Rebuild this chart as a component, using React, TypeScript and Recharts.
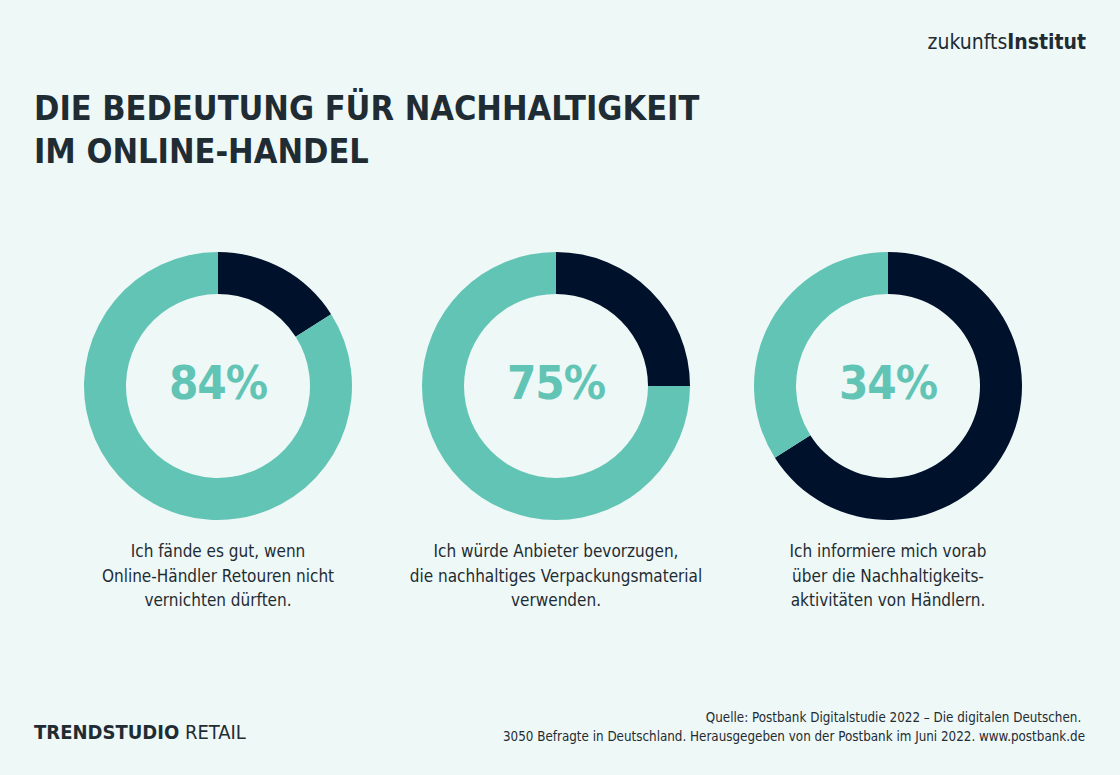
import { PieChart, Pie, Cell } from "recharts"

const statements = [
  ["Ich fände es gut, wenn", "Online-Händler Retouren nicht", "vernichten dürften."],
  ["Ich würde Anbieter bevorzugen,", "die nachhaltiges Verpackungsmaterial", "verwenden."],
  ["Ich informiere mich vorab", "über die Nachhaltigkeits-", "aktivitäten von Händlern."],
]
const agree = [84, 75, 34]
const centersX = [218, 556, 888]
const CY = 386

const TEAL = "#62c4b4"
const NAVY = "#00112b"
const INK = "#1f2c33"
const BG = "#eef8f7"
const FONT = "'Liberation Sans Narrow', 'DejaVu Sans Condensed', 'Open Sans', sans-serif"

export default function App() {
  return (
    <div
      style={{
        position: "absolute",
        left: 0,
        top: 0,
        width: 1120,
        height: 775,
        background: BG,
        fontFamily: FONT,
        color: INK,
        overflow: "hidden",
      }}
    >
      <div style={{ position: "absolute", right: 34, top: 30, fontSize: 21 }}>
        zukunfts<b>Institut</b>
      </div>
      <div
        style={{
          position: "absolute",
          left: 34,
          top: 87,
          fontSize: 34,
          fontWeight: 700,
          lineHeight: "43px",
        }}
      >
        DIE BEDEUTUNG FÜR NACHHALTIGKEIT
        <br />
        IM ONLINE-HANDEL
      </div>

      <div style={{ position: "absolute", left: 0, top: 0 }}>
        <PieChart width={1120} height={775} margin={{ top: 0, right: 0, bottom: 0, left: 0 }}>
          {agree.map((v, i) => (
            <Pie
              key={i}
              data={[
                { name: "nein", value: 100 - v },
                { name: "ja", value: v },
              ]}
              dataKey="value"
              cx={centersX[i]}
              cy={CY}
              innerRadius={92}
              outerRadius={134}
              startAngle={90}
              endAngle={-270}
              stroke="none"
              isAnimationActive={false}
            >
              <Cell fill={NAVY} />
              <Cell fill={TEAL} />
            </Pie>
          ))}
        </PieChart>
      </div>

      {agree.map((v, i) => (
        <div
          key={"p" + i}
          style={{
            position: "absolute",
            left: centersX[i] - 100,
            width: 200,
            top: CY - 33,
            textAlign: "center",
            fontSize: 47,
            fontWeight: 700,
            lineHeight: "60px",
            letterSpacing: -1,
            color: TEAL,
          }}
        >
          {v}%
        </div>
      ))}

      {statements.map((lines, i) => (
        <div
          key={i}
          style={{
            position: "absolute",
            left: centersX[i] - 170,
            width: 340,
            top: 539,
            textAlign: "center",
            fontSize: 17,
            lineHeight: "24.5px",
          }}
        >
          {lines.map((l, j) => (
            <div key={j}>{l}</div>
          ))}
        </div>
      ))}

      <div style={{ position: "absolute", left: 34, top: 720, fontSize: 20 }}>
        <b>TRENDSTUDIO</b> RETAIL
      </div>
      <div
        style={{
          position: "absolute",
          right: 35,
          top: 708,
          fontSize: 13.3,
          lineHeight: "19px",
          textAlign: "right",
        }}
      >
        Quelle: Postbank Digitalstudie 2022 – Die digitalen Deutschen.&nbsp;
        <br />
        3050 Befragte in Deutschland. Herausgegeben von der Postbank im Juni 2022. www.postbank.de
      </div>
    </div>
  )
}
